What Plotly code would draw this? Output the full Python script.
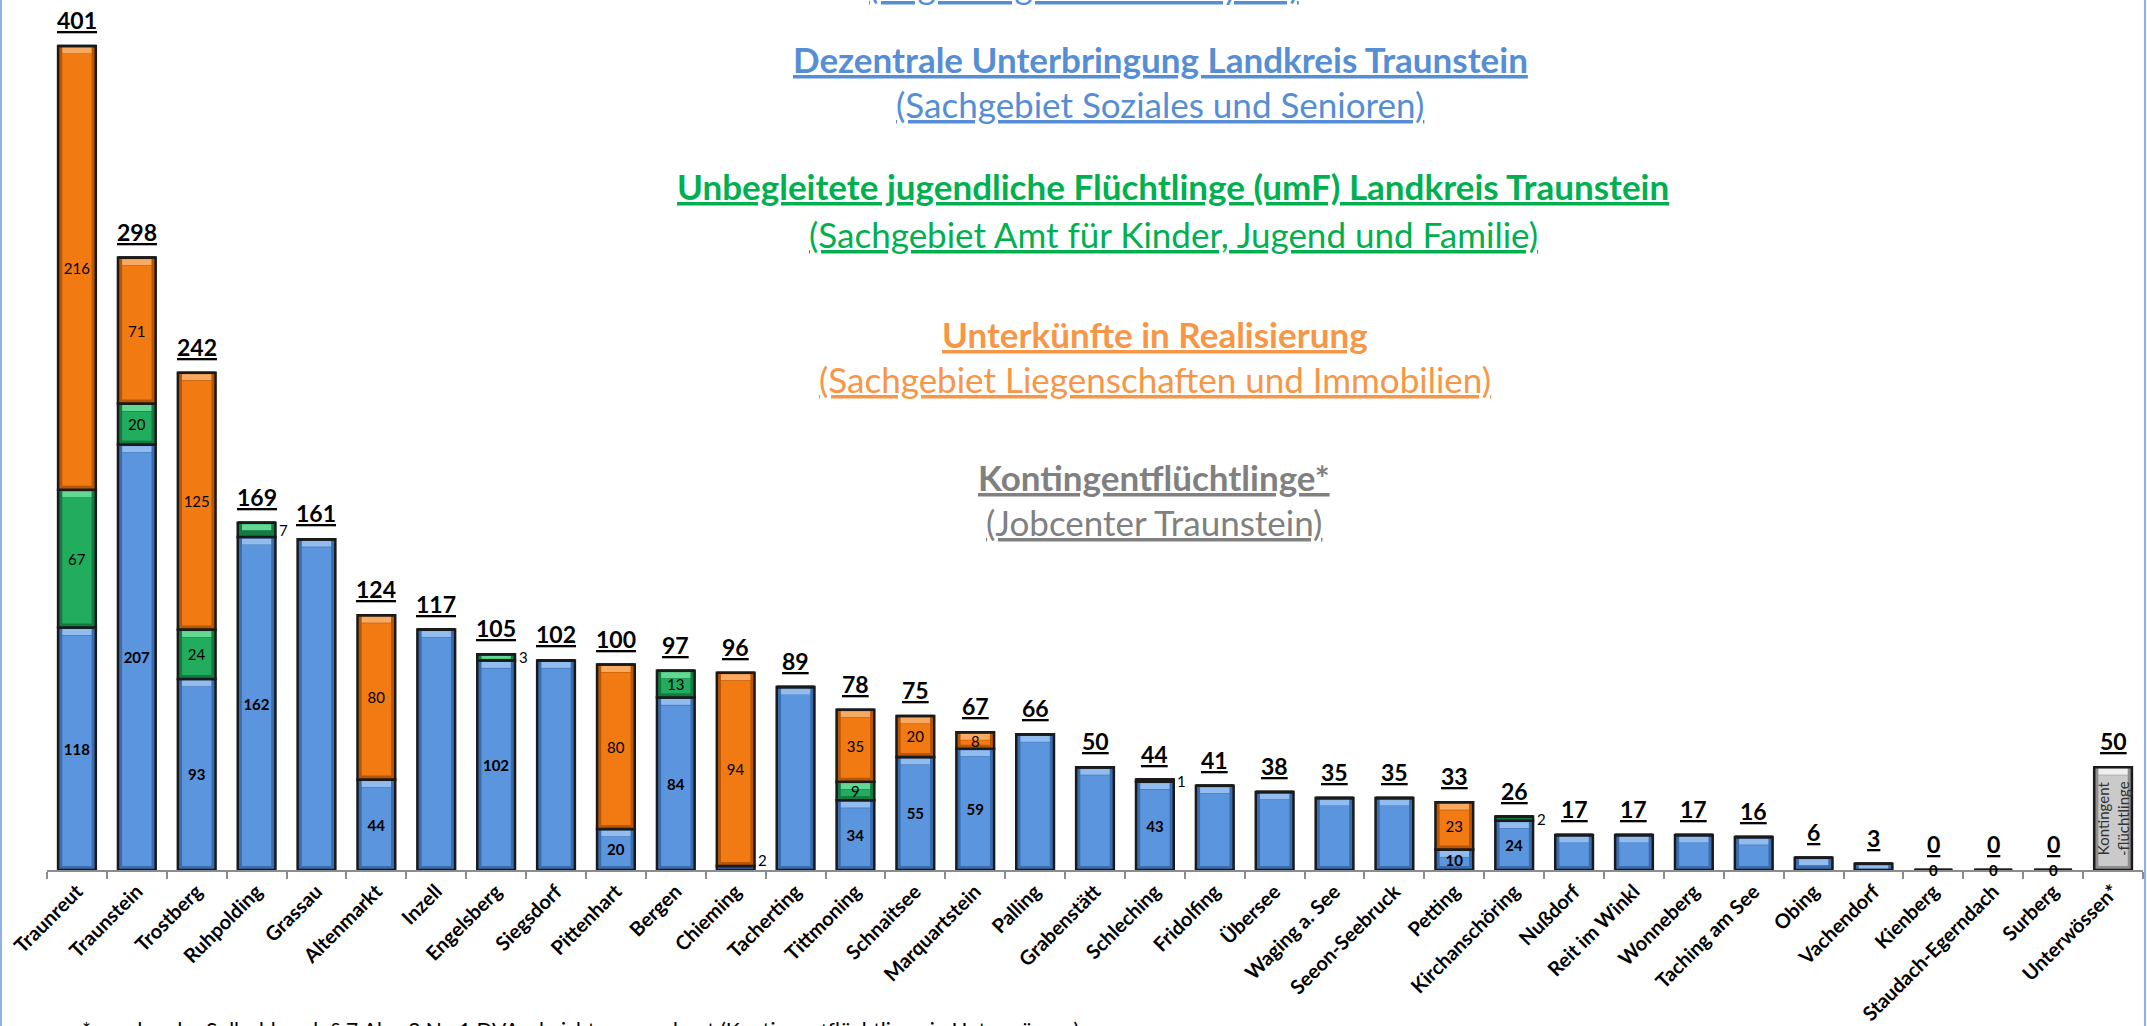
import plotly.graph_objects as go

W, H = 2147, 1026

categories = ["Traunreut", "Traunstein", "Trostberg", "Ruhpolding", "Grassau", "Altenmarkt",
              "Inzell", "Engelsberg", "Siegsdorf", "Pittenhart", "Bergen", "Chieming",
              "Tacherting", "Tittmoning", "Schnaitsee", "Marquartstein", "Palling",
              "Grabenstätt", "Schleching", "Fridolfing", "Übersee", "Waging a. See",
              "Seeon-Seebruck", "Petting", "Kirchanschöring", "Nußdorf", "Reit im Winkl",
              "Wonneberg", "Taching am See", "Obing", "Vachendorf", "Kienberg",
              "Staudach-Egerndach", "Surberg", "Unterwössen*"]

dezentral = [118, 207, 93, 162, 161, 44, 117, 102, 102, 20, 84, 2, 89, 34, 55, 59, 66,
             50, 43, 41, 38, 35, 35, 10, 24, 17, 17, 17, 16, 6, 3, 0, 0, 0, 0]
umf = [67, 20, 24, 7, 0, 0, 0, 3, 0, 0, 13, 0, 0, 9, 0, 0, 0,
       0, 1, 0, 0, 0, 0, 0, 2, 0, 0, 0, 0, 0, 0, 0, 0, 0, 0]
realisierung = [216, 71, 125, 0, 0, 80, 0, 0, 0, 80, 0, 94, 0, 35, 20, 8, 0,
                0, 0, 0, 0, 0, 0, 23, 0, 0, 0, 0, 0, 0, 0, 0, 0, 0, 0]
kontingent = [0] * 34 + [50]

kontingent_label = "Kontingent<br>-flüchtlinge"

titles = [
    ("(Regierung von Oberbayern)", "#558ED5", False),
    ("Dezentrale Unterbringung Landkreis Traunstein", "#558ED5", True),
    ("(Sachgebiet Soziales und Senioren)", "#558ED5", False),
    ("Unbegleitete jugendliche Flüchtlinge (umF) Landkreis Traunstein", "#00B050", True),
    ("(Sachgebiet Amt für Kinder, Jugend und Familie)", "#00B050", False),
    ("Unterkünfte in Realisierung", "#F79646", True),
    ("(Sachgebiet Liegenschaften und Immobilien)", "#F79646", False),
    ("Kontingentflüchtlinge*", "#808080", True),
    ("(Jobcenter Traunstein)", "#808080", False),
]
title_pos = [(1084, -15), (1160, 59), (1160, 104), (1173, 186), (1173, 234),
             (1155, 334), (1155, 379), (1154, 477), (1154, 522)]

footnote = "* werden der Sollzahl nach § 7 Abs. 2 Nr. 1 DVAsyl nicht angerechnet (Kontingentflüchtlinge in Unterwössen)"

FONT = "Lato"
px_per_unit = 2.055

# (edge/shadow, main, highlight)
STYLES = {
    "blue": ("#3A6DB0", "#5B95DD", "#93BCEE"),
    "green": ("#137A42", "#21AD5D", "#62D893"),
    "orange": ("#B95606", "#F27A12", "#F9AA62"),
    "grey": ("#8E8E8E", "#CACACA", "#EFEFEF"),
}

totals = [a + b + c + d for a, b, c, d in zip(dezentral, umf, realisierung, kontingent)]
n_parts = [sum(v > 0 for v in (a, b, c, d)) for a, b, c, d in zip(dezentral, umf, realisierung, kontingent)]

series = [
    ("blue", dezentral,
     [str(v) if (p > 1 and v >= 8) else "" for v, p in zip(dezentral, n_parts)],
     dict(family=FONT, size=15, color="black", weight="bold"), 0),
    ("green", umf, [str(v) if v >= 8 else "" for v in umf],
     dict(family=FONT, size=15, color="black"), 0),
    ("orange", realisierung, [str(v) if v > 0 else "" for v in realisierung],
     dict(family=FONT, size=15, color="black"), 0),
    ("grey", kontingent, [kontingent_label if v > 0 else "" for v in kontingent],
     dict(family=FONT, size=15, color="#333333"), -90),
]

fig = go.Figure()
OUTER_W, INNER_W = 0.63, 0.49
cap_top = 8 / px_per_unit
cap_bot = 4 / px_per_unit
base = [0] * len(categories)
for key, vals, txt, tfont, tangle in series:
    edge, main, light = STYLES[key]
    # outer body with dark outline (shaded sides / bottom)
    fig.add_bar(x=categories, y=vals, base=base, width=OUTER_W, marker_color=edge,
                marker_line=dict(color="#1A1A1A", width=2.5), hoverinfo="skip")
    # main face
    inner_h = [max(v - cap_top - cap_bot, 0) if v * px_per_unit >= 16 else 0 for v in vals]
    inner_b = [b + cap_bot for b in base]
    fig.add_bar(x=categories, y=inner_h, base=inner_b, width=INNER_W, marker_color=main,
                marker_line_width=0, hoverinfo="skip")
    # top highlight bevel
    hi_h = [min(cap_top - 2 / px_per_unit, v * 0.5) if v * px_per_unit >= 5 else 0 for v in vals]
    hi_b = [b + v - h - 1.5 / px_per_unit for b, v, h in zip(base, vals, hi_h)]
    fig.add_bar(x=categories, y=hi_h, base=hi_b, width=INNER_W, marker_color=light,
                marker_line_width=0, hoverinfo="skip")
    # labels on a transparent layer
    fig.add_bar(x=categories, y=vals, base=base, width=OUTER_W, marker_color="rgba(0,0,0,0)",
                marker_line_width=0, text=txt, textposition="inside",
                insidetextanchor="middle", constraintext="none", textangle=tangle,
                textfont=tfont, hoverinfo="skip")
    base = [b + v for b, v in zip(base, vals)]

annotations = []
for c, t in zip(categories, totals):
    annotations.append(dict(x=c, y=t, xref="x", yref="y", text=f"<b><u>{t}</u></b>",
                            showarrow=False, yanchor="bottom", yshift=10,
                            font=dict(family=FONT, size=23, color="black")))
for c, t in zip(categories, totals):
    if t == 0:
        annotations.append(dict(x=c, y=0, xref="x", yref="y", text="<b>0</b>",
                                showarrow=False, yanchor="middle",
                                font=dict(family=FONT, size=15, color="black")))
for c, b, g, p in zip(categories, dezentral, umf, n_parts):
    if p > 1 and 0 < b < 8:
        annotations.append(dict(x=c, y=b / 2, xref="x", yref="y", text=str(b), showarrow=False,
                                xshift=27, yshift=8, font=dict(family=FONT, size=15, color="black")))
    if 0 < g < 8:
        annotations.append(dict(x=c, y=b + g / 2, xref="x", yref="y", text=str(g), showarrow=False,
                                xshift=27, font=dict(family=FONT, size=15, color="black")))
for (txt, col, bold), (px, py) in zip(titles, title_pos):
    t = f"<u>{txt}</u>"
    if bold:
        t = f"<b>{t}</b>"
    annotations.append(dict(x=px / W, y=1 - py / H, xref="paper", yref="paper", text=t,
                            showarrow=False, xanchor="center", yanchor="middle",
                            font=dict(family=FONT, size=35, color=col)))
annotations.append(dict(x=80 / W, y=1 - 1015 / H, xref="paper", yref="paper", text=footnote,
                        showarrow=False, xanchor="left", yanchor="top",
                        font=dict(family=FONT, size=21, color="black")))

shapes = [
    dict(type="line", xref="paper", yref="paper", x0=1 / W, x1=1 / W, y0=0, y1=1,
         line=dict(color="#8DB4E2", width=2)),
    dict(type="line", xref="paper", yref="paper", x0=2145 / W, x1=2145 / W, y0=0, y1=1,
         line=dict(color="#8DB4E2", width=2)),
]

fig.update_layout(
    width=W, height=H, barmode="overlay", showlegend=False,
    margin=dict(l=0, r=0, t=0, b=0),
    paper_bgcolor="white", plot_bgcolor="white",
    annotations=annotations, shapes=shapes,
    xaxis=dict(domain=[47 / W, 2143 / W], type="category", showline=True, linecolor="#8C8C8C",
               linewidth=2, ticks="outside", tickson="boundaries", ticklen=7, tickwidth=2,
               tickcolor="#8C8C8C", tickangle=-45, automargin=False, showgrid=False,
               tickfont=dict(family=FONT, size=20, color="black", weight="bold")),
    yaxis=dict(domain=[(H - 870) / H, 1], range=[0, 870 / px_per_unit], visible=False,
               showgrid=False, zeroline=False),
)

fig.write_html("out.html", config={"displayModeBar": False},
               post_script="document.body.style.margin='0';document.body.style.overflow='hidden';")
